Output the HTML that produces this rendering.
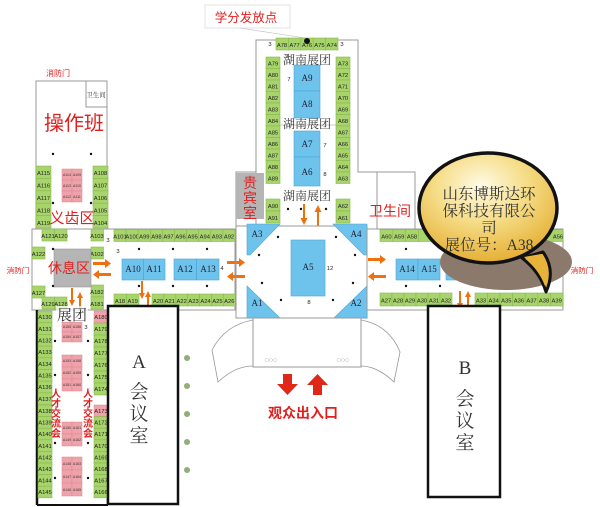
<!DOCTYPE html>
<html><head><meta charset="utf-8"><style>
html,body{margin:0;padding:0;background:#fff;width:600px;height:507px;overflow:hidden}
svg{display:block}
.g{fill:#a8d46c;stroke:#88b84e;stroke-width:.6}
.b{fill:#6ec3ec;stroke:#4aa4d6;stroke-width:.6}
.p{fill:#f0a2aa;stroke:#d98890;stroke-width:.5}
.t{font-family:"Liberation Sans",sans-serif;font-size:5.8px;fill:#222;text-anchor:middle}
.tp{font-family:"Liberation Sans",sans-serif;font-size:3.5px;fill:#333;text-anchor:middle}
.tb{font-family:"Liberation Serif",serif;font-size:9px;fill:#223;text-anchor:middle}
.r{font-family:"Liberation Sans","Noto Sans CJK SC",sans-serif;fill:#e02020;text-anchor:middle}
.k{font-family:"Liberation Serif","Noto Serif CJK SC",serif;fill:#333;text-anchor:middle}
.w{fill:none;stroke:#999;stroke-width:1}
.bk{fill:#fff;stroke:#111;stroke-width:2.5}
.o{fill:#f07010}
</style></head><body>
<svg width="600" height="507" viewBox="0 0 600 507" xmlns="http://www.w3.org/2000/svg">
<!-- left wing top -->
<rect x="36" y="81" width="71" height="148" class="w"/>
<rect x="86" y="81" width="21" height="26" class="w"/>
<text x="58" y="76" class="r" font-size="8">消防门</text>
<text x="96" y="97" class="k" font-size="6.5" fill="#222">卫生间</text>
<text x="74" y="130" class="r" font-size="20">操作班</text>
<g>
<rect x="36" y="166" width="15" height="12.4" class="g"/><text x="43.5" y="175" class="t">A115</text>
<rect x="36" y="178.4" width="15" height="12.4" class="g"/><text x="43.5" y="187.5" class="t">A116</text>
<rect x="36" y="190.8" width="15" height="12.4" class="g"/><text x="43.5" y="200" class="t">A117</text>
<rect x="36" y="203.2" width="15" height="12.4" class="g"/><text x="43.5" y="212.4" class="t">A118</text>
<rect x="36" y="215.6" width="15" height="12.4" class="g"/><text x="43.5" y="224.8" class="t">A119</text>
<rect x="93" y="166" width="15" height="12.4" class="g"/><text x="100.5" y="175" class="t">A108</text>
<rect x="93" y="178.4" width="15" height="12.4" class="g"/><text x="100.5" y="187.5" class="t">A107</text>
<rect x="93" y="190.8" width="15" height="12.4" class="g"/><text x="100.5" y="200" class="t">A106</text>
<rect x="93" y="203.2" width="15" height="12.4" class="g"/><text x="100.5" y="212.4" class="t">A105</text>
<rect x="93" y="215.6" width="15" height="12.4" class="g"/><text x="100.5" y="224.8" class="t">A104</text>
<rect x="62" y="169" width="10" height="11" class="p"/><rect x="72" y="169" width="10" height="11" class="p"/>
<rect x="62" y="180" width="10" height="11" class="p"/><rect x="72" y="180" width="10" height="11" class="p"/>
<rect x="62" y="191" width="10" height="11" class="p"/><rect x="72" y="191" width="10" height="11" class="p"/>
<text x="67" y="176" class="tp">A114</text><text x="77" y="176" class="tp">A109</text>
<text x="67" y="187" class="tp">A113</text><text x="77" y="187" class="tp">A110</text>
<text x="67" y="198" class="tp">A112</text><text x="77" y="198" class="tp">A111</text>
</g>
<text x="72" y="223" class="r" font-size="15">义齿区</text>
<g fill="#111"><circle cx="53" cy="154" r="1.2"/><circle cx="91" cy="154" r="1.2"/><circle cx="53" cy="203" r="1.2"/><circle cx="91" cy="203" r="1.2"/></g>

<!-- left corridor -->
<rect x="32" y="229" width="203" height="81" class="w"/>
<rect x="42" y="229" width="12.5" height="12" class="g"/><text x="48" y="238" class="t">A121</text>
<rect x="54.5" y="229" width="12.5" height="12" class="g"/><text x="61" y="238" class="t">A120</text>
<rect x="91" y="229" width="12.5" height="12" class="g"/><text x="97" y="238" class="t">A103</text>
<text x="108" y="242" class="t" font-size="7">3</text>
<rect x="32" y="247" width="13" height="12" class="g"/><text x="38.5" y="256" class="t">A122</text>
<rect x="91" y="247" width="12.5" height="12" class="g"/><text x="97" y="256" class="t">A102</text>
<text x="118" y="253" class="t" font-size="7">3</text>
<rect x="32" y="286" width="13" height="12" class="g"/><text x="38.5" y="295" class="t">A127</text>
<rect x="42" y="297" width="12.5" height="12" class="g"/><text x="48" y="306" class="t">A129</text>
<rect x="54.5" y="297" width="12.5" height="12" class="g"/><text x="61" y="306" class="t">A128</text>
<rect x="91" y="285" width="12.5" height="12" class="g"/><text x="97" y="294" class="t">A182</text>
<rect x="91" y="297" width="12.5" height="12" class="g"/><text x="97" y="306" class="t">A181</text>
<rect x="54" y="249" width="37" height="38" fill="#b5b5b5" stroke="#999" stroke-width=".6"/>
<text x="69" y="273" class="r" font-size="14">休息区</text>
<text x="18" y="273" class="r" font-size="7.5">消防门</text>
<g>
<rect x="114" y="229.5" width="12.1" height="12" class="g"/><text x="120" y="238.5" class="t">A101</text>
<rect x="126.1" y="229.5" width="12.1" height="12" class="g"/><text x="132.2" y="238.5" class="t">A100</text>
<rect x="138.2" y="229.5" width="12.1" height="12" class="g"/><text x="144.3" y="238.5" class="t">A99</text>
<rect x="150.3" y="229.5" width="12.1" height="12" class="g"/><text x="156.4" y="238.5" class="t">A98</text>
<rect x="162.4" y="229.5" width="12.1" height="12" class="g"/><text x="168.5" y="238.5" class="t">A97</text>
<rect x="174.5" y="229.5" width="12.1" height="12" class="g"/><text x="180.6" y="238.5" class="t">A96</text>
<rect x="186.6" y="229.5" width="12.1" height="12" class="g"/><text x="192.7" y="238.5" class="t">A95</text>
<rect x="198.7" y="229.5" width="12.1" height="12" class="g"/><text x="204.8" y="238.5" class="t">A94</text>
<rect x="210.8" y="229.5" width="12.1" height="12" class="g"/><text x="216.9" y="238.5" class="t">A93</text>
<rect x="222.9" y="229.5" width="12.1" height="12" class="g"/><text x="229" y="238.5" class="t">A92</text>
</g>
<g>
<rect x="114" y="294" width="12.5" height="12" class="g"/><text x="120" y="303" class="t">A18</text>
<rect x="126.5" y="294" width="12.5" height="12" class="g"/><text x="132.7" y="303" class="t">A19</text>
<rect x="152" y="294" width="11.9" height="12" class="g"/><text x="158" y="303" class="t">A20</text>
<rect x="163.9" y="294" width="11.9" height="12" class="g"/><text x="169.8" y="303" class="t">A21</text>
<rect x="175.8" y="294" width="11.9" height="12" class="g"/><text x="181.7" y="303" class="t">A22</text>
<rect x="187.7" y="294" width="11.9" height="12" class="g"/><text x="193.6" y="303" class="t">A23</text>
<rect x="199.6" y="294" width="11.9" height="12" class="g"/><text x="205.5" y="303" class="t">A24</text>
<rect x="211.5" y="294" width="11.9" height="12" class="g"/><text x="217.4" y="303" class="t">A25</text>
<rect x="223.4" y="294" width="11.9" height="12" class="g"/><text x="229.3" y="303" class="t">A26</text>
</g>
<rect x="122" y="259" width="21.5" height="21" class="b"/><text x="133" y="272" class="tb">A10</text>
<rect x="143.5" y="259" width="21.5" height="21" class="b"/><text x="154" y="272" class="tb">A11</text>
<rect x="174" y="259" width="22.5" height="21" class="b"/><text x="185" y="272" class="tb">A12</text>
<rect x="196.5" y="259" width="22.5" height="21" class="b"/><text x="208" y="272" class="tb">A13</text>
<text x="222" y="270" class="t" font-size="7">4</text>
<g fill="#111">
<circle cx="53" cy="249" r="1.2"/><circle cx="139" cy="249" r="1.2"/><circle cx="173" cy="249" r="1.2"/><circle cx="207" cy="249" r="1.2"/>
<circle cx="53" cy="286" r="1.2"/><circle cx="139" cy="286" r="1.2"/><circle cx="173" cy="286" r="1.2"/><circle cx="207" cy="286" r="1.2"/>
</g>
<g class="o">
<path d="M93 262h12v-3l6 4.5-6 4.5v-3h-12z"/>
<path d="M111 273h-12v-3l-6 4.5 6 4.5v-3h12z"/>
<path d="M227 261h12v-3l6 4.5-6 4.5v-3h-12z"/>
<path d="M245 275h-12v-3l-6 4.5 6 4.5v-3h12z"/>
<path d="M71 288v12h-2l3 6 3-6h-2v-12z"/>
<path d="M79 310v-12h-2l3-6 3 6h-2v12z"/>
<path d="M141 281v12h-2l3 6 3-6h-2v-12z"/>
<path d="M147 309v-12h-2l3-6 3 6h-2v12z"/>
<path d="M303 204v14h-2.5l3.5 7 3.5-7h-2.5v-14z"/>
<path d="M317 226v-14h-2.5l3.5-7 3.5 7h-2.5v14z"/>
<path d="M368 258h12v-3l6 4.5-6 4.5v-3h-12z"/>
<path d="M386 275h-12v-3l-6 4.5 6 4.5v-3h12z"/>
<path d="M459 291v12h-2l3 6 3-6h-2v-12z"/>
<path d="M467 309v-12h-2l3-6 3 6h-2v12z"/>
</g>

<!-- lower-left wing -->
<line x1="37" y1="310" x2="37" y2="505" stroke="#111" stroke-width="2.5"/>
<line x1="37" y1="505" x2="108" y2="505" stroke="#111" stroke-width="2"/>
<line x1="108" y1="405" x2="108" y2="505" stroke="#111" stroke-width="2.5"/>
<g>
<rect x="38" y="311" width="14" height="11.7" class="g"/><rect x="38" y="322.7" width="14" height="11.7" class="g"/><rect x="38" y="334.4" width="14" height="11.7" class="g"/><rect x="38" y="346.1" width="14" height="11.7" class="g"/><rect x="38" y="357.8" width="14" height="11.7" class="g"/><rect x="38" y="369.5" width="14" height="11.7" class="g"/><rect x="38" y="381.2" width="14" height="11.7" class="g"/><rect x="38" y="392.9" width="14" height="11.7" class="g"/>
<rect x="38" y="405" width="14" height="11.6" class="g"/><rect x="38" y="416.6" width="14" height="11.6" class="g"/><rect x="38" y="428.2" width="14" height="11.6" class="g"/><rect x="38" y="439.8" width="14" height="11.6" class="g"/><rect x="38" y="451.4" width="14" height="11.6" class="g"/><rect x="38" y="463" width="14" height="11.6" class="g"/><rect x="38" y="474.6" width="14" height="11.6" class="g"/><rect x="38" y="486.2" width="14" height="11.6" class="g"/>
<text x="45" y="319" class="t" font-size="5.5">A130</text><text x="45" y="331" class="t" font-size="5.5">A131</text><text x="45" y="342.5" class="t" font-size="5.5">A132</text><text x="45" y="354" class="t" font-size="5.5">A133</text><text x="45" y="366" class="t" font-size="5.5">A134</text><text x="45" y="377.5" class="t" font-size="5.5">A135</text><text x="45" y="389" class="t" font-size="5.5">A136</text><text x="45" y="401" class="t" font-size="5.5">A137</text>
<text x="45" y="413" class="t" font-size="5.5">A138</text><text x="45" y="424.5" class="t" font-size="5.5">A139</text><text x="45" y="436" class="t" font-size="5.5">A140</text><text x="45" y="448" class="t" font-size="5.5">A141</text><text x="45" y="459.5" class="t" font-size="5.5">A142</text><text x="45" y="471" class="t" font-size="5.5">A143</text><text x="45" y="482.5" class="t" font-size="5.5">A144</text><text x="45" y="494" class="t" font-size="5.5">A145</text>
<rect x="94" y="311" width="14" height="12" class="p"/><rect x="94" y="323" width="14" height="12" class="g"/><rect x="94" y="335" width="14" height="12" class="g"/><rect x="94" y="347" width="14" height="12" class="g"/><rect x="94" y="359" width="14" height="12" class="g"/><rect x="94" y="371" width="14" height="12" class="g"/><rect x="94" y="383" width="14" height="12" class="g"/>
<rect x="94" y="405" width="14" height="11.6" class="p"/><rect x="94" y="416.6" width="14" height="11.6" class="g"/><rect x="94" y="428.2" width="14" height="11.6" class="g"/><rect x="94" y="439.8" width="14" height="11.6" class="g"/><rect x="94" y="451.4" width="14" height="11.6" class="g"/><rect x="94" y="463" width="14" height="11.6" class="g"/><rect x="94" y="474.6" width="14" height="11.6" class="g"/><rect x="94" y="486.2" width="14" height="11.6" class="g"/>
<text x="101" y="319" class="t" font-size="5">A180</text><text x="101" y="331" class="t" font-size="5.5">A179</text><text x="101" y="343" class="t" font-size="5.5">A178</text><text x="101" y="355" class="t" font-size="5.5">A177</text><text x="101" y="367" class="t" font-size="5.5">A176</text><text x="101" y="379" class="t" font-size="5.5">A175</text><text x="101" y="391" class="t" font-size="5.5">A174</text>
<text x="101" y="413" class="t" font-size="5">A173</text><text x="101" y="424.5" class="t" font-size="5.5">A172</text><text x="101" y="436" class="t" font-size="5.5">A171</text><text x="101" y="448" class="t" font-size="5.5">A170</text><text x="101" y="459.5" class="t" font-size="5.5">A169</text><text x="101" y="471" class="t" font-size="5.5">A168</text><text x="101" y="482.5" class="t" font-size="5.5">A167</text><text x="101" y="494" class="t" font-size="5.5">A166</text>
</g>
<g>
<rect x="62" y="322" width="10" height="10" class="p"/><rect x="72" y="322" width="10" height="10" class="p"/><rect x="62" y="332" width="10" height="10" class="p"/><rect x="72" y="332" width="10" height="10" class="p"/>
<text x="67" y="328" class="tp">A155</text><text x="77" y="328" class="tp">A156</text><text x="67" y="338" class="tp">A154</text><text x="77" y="338" class="tp">A157</text>
<rect x="62" y="355" width="10" height="12" class="p"/><rect x="72" y="355" width="10" height="12" class="p"/><rect x="62" y="367" width="10" height="12" class="p"/><rect x="72" y="367" width="10" height="12" class="p"/><rect x="62" y="379" width="10" height="12" class="p"/><rect x="72" y="379" width="10" height="12" class="p"/>
<text x="67" y="362" class="tp">A153</text><text x="77" y="362" class="tp">A158</text><text x="67" y="374" class="tp">A152</text><text x="77" y="374" class="tp">A159</text><text x="67" y="386" class="tp">A151</text><text x="77" y="386" class="tp">A160</text>
<rect x="62" y="422" width="10" height="12" class="p"/><rect x="72" y="422" width="10" height="12" class="p"/><rect x="62" y="434" width="10" height="12" class="p"/><rect x="72" y="434" width="10" height="12" class="p"/>
<text x="67" y="429" class="tp">A150</text><text x="77" y="429" class="tp">A161</text><text x="67" y="441" class="tp">A149</text><text x="77" y="441" class="tp">A162</text>
<rect x="62" y="457" width="10" height="13" class="p"/><rect x="72" y="457" width="10" height="13" class="p"/><rect x="62" y="470" width="10" height="13" class="p"/><rect x="72" y="470" width="10" height="13" class="p"/><rect x="62" y="483" width="10" height="13" class="p"/><rect x="72" y="483" width="10" height="13" class="p"/>
<text x="67" y="465" class="tp">A148</text><text x="77" y="465" class="tp">A163</text><text x="67" y="478" class="tp">A147</text><text x="77" y="478" class="tp">A164</text><text x="67" y="491" class="tp">A146</text><text x="77" y="491" class="tp">A165</text>
</g>
<rect x="56" y="306" width="32" height="16" fill="#fff" opacity=".7"/>
<text x="72" y="320" class="k" font-size="15" fill="#333">展团</text>
<text x="86" y="329" class="t" font-size="7">3</text>
<g fill="#111"><circle cx="55" cy="341" r="1.2"/><circle cx="88" cy="341" r="1.2"/><circle cx="55" cy="375" r="1.2"/><circle cx="88" cy="375" r="1.2"/><circle cx="55" cy="443" r="1.2"/><circle cx="88" cy="443" r="1.2"/><circle cx="55" cy="478" r="1.2"/><circle cx="88" cy="478" r="1.2"/></g>
<g class="r" font-size="10" font-weight="bold">
<text x="56" y="397">人</text><text x="56" y="407">才</text><text x="56" y="417">交</text><text x="56" y="427">流</text><text x="56" y="437">会</text>
<text x="88" y="397">人</text><text x="88" y="407">才</text><text x="88" y="417">交</text><text x="88" y="427">流</text><text x="88" y="437">会</text>
</g>

<!-- A meeting room -->
<rect x="108" y="306" width="70" height="198" class="bk"/>
<text x="139" y="368" class="k" font-size="19" fill="#222">A</text>
<text x="139" y="398" class="k" font-size="19" fill="#222">会</text>
<text x="139" y="420" class="k" font-size="19" fill="#222">议</text>
<text x="139" y="442" class="k" font-size="19" fill="#222">室</text>
<g fill="#8fae78"><circle cx="187" cy="358" r="3"/><circle cx="187" cy="386" r="3"/><circle cx="187" cy="414" r="3"/><circle cx="187" cy="442" r="3"/><circle cx="187" cy="470" r="3"/></g>

<!-- central top -->
<rect x="205" y="5" width="85" height="23" fill="#fff" stroke="#ddd" stroke-width=".8"/>
<text x="246" y="22" class="r" font-size="12.5">学分发放点</text>
<line x1="240" y1="28" x2="305" y2="38" stroke="#bbb" stroke-width=".6"/>
<path d="M256 230V40h102v132h20" class="w"/>
<path d="M256 172h-20v54" class="w"/>
<g>
<rect x="276" y="38" width="12.4" height="12" class="g"/><text x="282" y="47" class="t">A78</text>
<rect x="288.4" y="38" width="12.4" height="12" class="g"/><text x="294.6" y="47" class="t">A77</text>
<rect x="300.8" y="38" width="12.4" height="12" class="g"/><text x="307" y="47" class="t">A76</text>
<rect x="313.2" y="38" width="12.4" height="12" class="g"/><text x="319.4" y="47" class="t">A75</text>
<rect x="325.6" y="38" width="12.4" height="12" class="g"/><text x="331.8" y="47" class="t">A74</text>
</g>
<circle cx="307" cy="41" r="3" fill="#111"/>
<text x="270" y="46" class="t" font-size="7">3</text><text x="342" y="46" class="t" font-size="7">3</text>
<g>
<rect x="266" y="57" width="14" height="11.5" class="g"/><text x="273" y="65.5" class="t">A79</text>
<rect x="266" y="68.5" width="14" height="11.5" class="g"/><text x="273" y="77" class="t">A80</text>
<rect x="266" y="80" width="14" height="11.5" class="g"/><text x="273" y="88.5" class="t">A81</text>
<rect x="266" y="91.5" width="14" height="11.5" class="g"/><text x="273" y="100" class="t">A82</text>
<rect x="266" y="103" width="14" height="11.5" class="g"/><text x="273" y="111.5" class="t">A83</text>
<rect x="266" y="114.5" width="14" height="11.5" class="g"/><text x="273" y="123" class="t">A84</text>
<rect x="266" y="126" width="14" height="11.5" class="g"/><text x="273" y="134.5" class="t">A85</text>
<rect x="266" y="137.5" width="14" height="11.5" class="g"/><text x="273" y="146" class="t">A86</text>
<rect x="266" y="149" width="14" height="11.5" class="g"/><text x="273" y="157.5" class="t">A87</text>
<rect x="266" y="160.5" width="14" height="11.5" class="g"/><text x="273" y="169" class="t">A88</text>
<rect x="266" y="172" width="14" height="11.5" class="g"/><text x="273" y="180.5" class="t">A89</text>
<rect x="266" y="199" width="14" height="12" class="g"/><text x="273" y="208" class="t">A90</text>
<rect x="266" y="211" width="14" height="12" class="g"/><text x="273" y="220" class="t">A91</text>
<rect x="336" y="57" width="14" height="11.5" class="g"/><text x="343" y="65.5" class="t">A73</text>
<rect x="336" y="68.5" width="14" height="11.5" class="g"/><text x="343" y="77" class="t">A72</text>
<rect x="336" y="80" width="14" height="11.5" class="g"/><text x="343" y="88.5" class="t">A71</text>
<rect x="336" y="91.5" width="14" height="11.5" class="g"/><text x="343" y="100" class="t">A70</text>
<rect x="336" y="103" width="14" height="11.5" class="g"/><text x="343" y="111.5" class="t">A69</text>
<rect x="336" y="114.5" width="14" height="11.5" class="g"/><text x="343" y="123" class="t">A68</text>
<rect x="336" y="126" width="14" height="11.5" class="g"/><text x="343" y="134.5" class="t">A67</text>
<rect x="336" y="137.5" width="14" height="11.5" class="g"/><text x="343" y="146" class="t">A66</text>
<rect x="336" y="149" width="14" height="11.5" class="g"/><text x="343" y="157.5" class="t">A65</text>
<rect x="336" y="160.5" width="14" height="11.5" class="g"/><text x="343" y="169" class="t">A64</text>
<rect x="336" y="172" width="14" height="11.5" class="g"/><text x="343" y="180.5" class="t">A63</text>
<rect x="336" y="199" width="14" height="12" class="g"/><text x="343" y="208" class="t">A62</text>
<rect x="336" y="211" width="14" height="12" class="g"/><text x="343" y="220" class="t">A61</text>
</g>
<rect x="294" y="65" width="26" height="26" class="b"/><text x="307" y="81" class="tb">A9</text>
<rect x="294" y="91" width="26" height="27" class="b"/><text x="307" y="107" class="tb">A8</text>
<rect x="294" y="131" width="26" height="26" class="b"/><text x="307" y="147" class="tb">A7</text>
<rect x="294" y="157" width="26" height="29" class="b"/><text x="307" y="175" class="tb">A6</text>
<line x1="280" y1="125" x2="336" y2="125" stroke="#999" stroke-width=".5"/>
<text x="307" y="64" class="k" font-size="12">湖南展团</text>
<text x="287" y="58" class="t" font-size="6">3</text>
<text x="307" y="128" class="k" font-size="12">湖南展团</text>
<text x="307" y="200" class="k" font-size="12">湖南展团</text>
<text x="289" y="81" class="t" font-size="7">7</text>
<text x="325" y="147" class="t" font-size="7">7</text>
<text x="325" y="176" class="t" font-size="7">8</text>
<rect x="236" y="173" width="28" height="46" fill="#b5b5b5"/>
<text x="250" y="188" class="r" font-size="14">贵</text>
<text x="250" y="203" class="r" font-size="14">宾</text>
<text x="250" y="218" class="r" font-size="14">室</text>
<g fill="#111"><circle cx="288" cy="209" r="1.2"/><circle cx="301" cy="209" r="1.2"/><circle cx="326" cy="209" r="1.2"/></g>

<!-- hall -->
<rect x="236" y="226" width="131" height="92" class="w"/>
<polygon points="247,224 280,224 250,255 247,255" class="b"/>
<polygon points="367,224 333,224 364,255 367,255" class="b"/>
<polygon points="247,286 247,318 280,318" class="b"/>
<polygon points="367,286 367,318 334,318" class="b"/>
<text x="257" y="237" class="tb" font-size="10">A3</text>
<text x="356" y="237" class="tb" font-size="10">A4</text>
<text x="257" y="306" class="tb" font-size="10">A1</text>
<text x="356" y="306" class="tb" font-size="10">A2</text>
<rect x="291" y="240" width="34" height="56" class="b"/><text x="308" y="270" class="tb">A5</text>
<text x="330" y="270" class="t" font-size="7">12</text>
<text x="309" y="304" class="t" font-size="7">8</text>
<g fill="#111"><circle cx="278" cy="237" r="1.2"/><circle cx="336" cy="237" r="1.2"/><circle cx="259" cy="255" r="1.2"/><circle cx="355" cy="255" r="1.2"/><circle cx="262" cy="283" r="1.2"/><circle cx="353" cy="283" r="1.2"/><circle cx="281" cy="300" r="1.2"/><circle cx="333" cy="300" r="1.2"/></g>

<!-- entrance -->
<rect x="253" y="318" width="108" height="49" class="w"/>
<path d="M253 320 Q225 325 212 350 L218 382 Q235 366 253 366" fill="none" stroke="#999" stroke-width=".8"/>
<path d="M361 320 Q389 325 400 352 L394 382 Q377 366 361 366" fill="none" stroke="#999" stroke-width=".8"/>
<g fill="none" stroke="#ccc" stroke-width=".6"><circle cx="267" cy="360" r="1.5"/><circle cx="271" cy="360" r="1.5"/><circle cx="275" cy="360" r="1.5"/><circle cx="339" cy="360" r="1.5"/><circle cx="343" cy="360" r="1.5"/><circle cx="347" cy="360" r="1.5"/></g>
<path d="M283 374h9v10h6l-10.5 11-10.5-11h6z" fill="#e02818"/>
<path d="M313 395h9v-10h6l-10.5-11-10.5 11h6z" fill="#e02818"/>
<text x="303" y="418" class="r" font-size="14" font-weight="bold">观众出入口</text>

<!-- right corridor -->
<path d="M377 229V172h38v57" class="w"/>
<rect x="367" y="229" width="196" height="81" class="w"/>
<text x="390" y="216" class="r" font-size="14">卫生间</text>
<g>
<rect x="380" y="229.5" width="12.8" height="12" class="g"/><text x="386.4" y="238.5" class="t">A60</text>
<rect x="392.8" y="229.5" width="12.8" height="12" class="g"/><text x="399.2" y="238.5" class="t">A59</text>
<rect x="405.6" y="229.5" width="12.8" height="12" class="g"/><text x="412" y="238.5" class="t">A58</text>
<rect x="418.4" y="229.5" width="144.6" height="12" class="g"/><text x="558" y="238.5" class="t">A56</text>
<rect x="380" y="293" width="12" height="13" class="g"/><text x="386" y="302.5" class="t">A27</text>
<rect x="392" y="293" width="12" height="13" class="g"/><text x="398" y="302.5" class="t">A28</text>
<rect x="404" y="293" width="12" height="13" class="g"/><text x="410" y="302.5" class="t">A29</text>
<rect x="416" y="293" width="12" height="13" class="g"/><text x="422" y="302.5" class="t">A30</text>
<rect x="428" y="293" width="12" height="13" class="g"/><text x="434" y="302.5" class="t">A31</text>
<rect x="440" y="293" width="12" height="13" class="g"/><text x="446" y="302.5" class="t">A32</text>
<rect x="475" y="293" width="12.5" height="13" class="g"/><text x="481" y="302.5" class="t">A33</text>
<rect x="487.5" y="293" width="12.5" height="13" class="g"/><text x="493.7" y="302.5" class="t">A34</text>
<rect x="500" y="293" width="12.6" height="13" class="g"/><text x="506.3" y="302.5" class="t">A35</text>
<rect x="512.6" y="293" width="12.6" height="13" class="g"/><text x="518.9" y="302.5" class="t">A36</text>
<rect x="525.2" y="293" width="12.6" height="13" class="g"/><text x="531.5" y="302.5" class="t">A37</text>
<rect x="537.8" y="293" width="12.6" height="13" class="g"/><text x="544.1" y="302.5" class="t">A38</text>
<rect x="550.4" y="293" width="12.6" height="13" class="g"/><text x="556.7" y="302.5" class="t">A39</text>
</g>
<rect x="396" y="259" width="22" height="21" class="b"/><text x="407" y="272" class="tb">A14</text>
<rect x="418" y="259" width="22" height="21" class="b"/><text x="429" y="272" class="tb">A15</text>
<rect x="446" y="259" width="40" height="21" class="b"/>
<g fill="#111"><circle cx="406" cy="249" r="1.2"/><circle cx="406" cy="286" r="1.2"/><circle cx="440" cy="286" r="1.2"/><circle cx="515" cy="286" r="1.2"/></g>
<text x="582" y="273" class="r" font-size="7.5">消防门</text>

<!-- B meeting room -->
<rect x="428" y="306" width="72" height="191" class="bk"/>
<text x="465" y="374" class="k" font-size="19" fill="#222">B</text>
<text x="465" y="405" class="k" font-size="19" fill="#222">会</text>
<text x="465" y="427" class="k" font-size="19" fill="#222">议</text>
<text x="465" y="449" class="k" font-size="19" fill="#222">室</text>

<!-- bubble -->
<defs>
<radialGradient id="yg" cx="0.45" cy="0.3" r="0.75">
<stop offset="0" stop-color="#fffbe6"/><stop offset="0.45" stop-color="#f5dc85"/><stop offset="1" stop-color="#e3a92a"/>
</radialGradient>
</defs>
<ellipse cx="506" cy="262" rx="66" ry="28" fill="#8b7a6c"/>
<path d="M522 258 Q540 272 546 292 Q556 270 543 252 Z" fill="#e8b33a" stroke="#111" stroke-width="3" stroke-linejoin="round"/>
<ellipse cx="488" cy="208" rx="69" ry="55" fill="url(#yg)" stroke="#111" stroke-width="3.5"/>
<path d="M524 257 Q538 268 545 286 Q550 268 541 254 Z" fill="#e8b33a"/>
<g class="k" font-size="15.5" fill="#222">
<text x="489" y="199">山东博斯达环</text>
<text x="489" y="216">保科技有限公</text>
<text x="489" y="233">司</text>
<text x="489" y="250">展位号：A38</text>
</g>
</svg>
</body></html>
